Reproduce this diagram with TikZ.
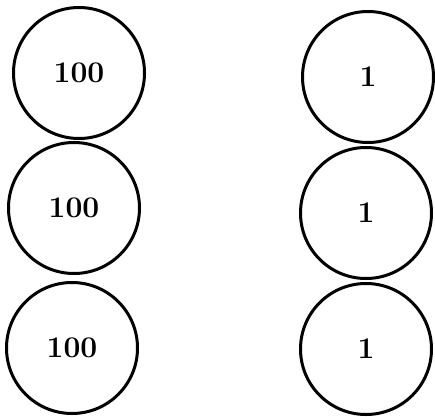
\documentclass[tikz,border=0pt]{standalone}
\usepackage{fontspec}
\usepackage{tikz}
\usetikzlibrary{positioning}

\begin{document}
\begin{tikzpicture}[x=1pt, y=1pt,
  coin_node/.style={circle, draw=black, line width=3pt,
    minimum size=131pt, inner sep=0pt,
    font=\fontsize{30}{32}\selectfont\bfseries}
]
  \useasboundingbox (0,0) rectangle (435,416);

  \node[coin_node] (big1) at (79,343) {100};
  \node[coin_node] (big2) at (74,208) {100};
  \node[coin_node] (big3) at (72,68) {100};

  \node[coin_node] (small1) at (368,339) {1};
  \node[coin_node] (small2) at (366,203) {1};
  \node[coin_node] (small3) at (366,67) {1};

\end{tikzpicture}
\end{document}
